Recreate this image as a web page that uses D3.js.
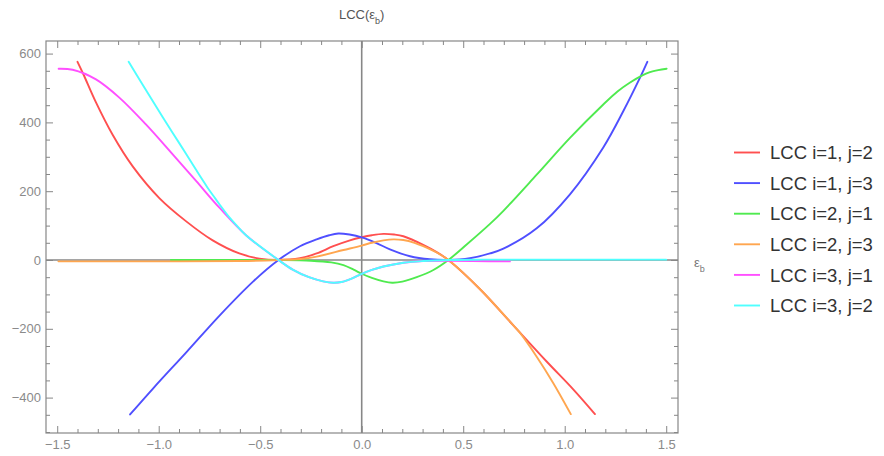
<!DOCTYPE html>
<html>
<head>
<meta charset="utf-8">
<script src="https://cdn.jsdelivr.net/npm/d3@7"></script>
<style>
  body { margin: 0; background: #fff; }
  svg { display: block; font-family: "Liberation Sans", Arial, sans-serif; }
</style>
</head>
<body>
<svg id="chart" width="884" height="456"></svg>
<script>
// Legend labels and line colours, one per series
const legendLabels = ["LCC i=1, j=2", "LCC i=1, j=3", "LCC i=2, j=1", "LCC i=2, j=3", "LCC i=3, j=1", "LCC i=3, j=2"];
const seriesColors = ["#ff4f4f", "#4f4fff", "#4fea4f", "#ffa64f", "#ff4fff", "#4fffff"];

// Tick labels
const xMajorTicks = [-1.5, -1.0, -0.5, 0.0, 0.5, 1.0, 1.5];
const yMajorTicks = [-400, -200, 0, 200, 400, 600];

// LCC i=1, j=2
const lcc12X = [-1.40, -1.371, -1.309, -1.227, -1.128, -0.997, -0.866, -0.734, -0.603, -0.504, -0.41, -0.304, -0.222, -0.14, -0.058, 0, 0.05, 0.107, 0.16, 0.205, 0.303, 0.369, 0.427, 0.583, 0.747, 0.911, 1.042, 1.149];
const lcc12Y = [576, 540, 458, 364, 272, 180, 113, 57, 19, 4, 0, 5, 19, 40, 57, 66, 72, 76, 74, 69, 44, 23, 0, -85, -190, -295, -376, -448];

// LCC i=1, j=3
const lcc13X = [-1.141, -1.027, -0.862, -0.698, -0.534, -0.41, -0.304, -0.222, -0.16, -0.115, -0.06, 0, 0.07, 0.139, 0.238, 0.336, 0.427, 0.533, 0.632, 0.698, 0.862, 1.026, 1.19, 1.289, 1.371, 1.407];
const lcc13Y = [-449, -373, -267, -160, -62, 0, 40, 60, 72, 77, 74, 66, 50, 31, 11, 2, 0, 5, 19, 33, 92, 191, 327, 433, 530, 576];

// LCC i=2, j=1
const lcc21X = [-0.94, -0.41, -0.25, -0.15, -0.09, -0.04, 0, 0.05, 0.107, 0.15, 0.2, 0.271, 0.353, 0.427, 0.517, 0.632, 0.698, 0.862, 1.026, 1.19, 1.26, 1.322, 1.38, 1.42, 1.46, 1.502];
const lcc21Y = [0, 0, -2, -7, -15, -28, -40, -52, -62, -66, -63, -50, -29, 0, 45, 105, 143, 248, 355, 452, 490, 516, 536, 546, 552, 556];

// LCC i=2, j=3
const lcc23X = [-1.494, -0.9, -0.6, -0.41, -0.3, -0.222, -0.09, 0, 0.05, 0.107, 0.156, 0.205, 0.26, 0.303, 0.386, 0.427, 0.583, 0.747, 0.78, 0.862, 0.944, 1.03];
const lcc23Y = [-4, -4, -3, 0, 3, 10, 29, 42, 50, 57, 60, 58, 50, 40, 16, 0, -85, -190, -212, -281, -358, -448];

// LCC i=3, j=1
const lcc31X = [-1.493, -1.424, -1.309, -1.194, -1.063, -0.931, -0.816, -0.701, -0.570, -0.41, -0.34, -0.26, -0.19, -0.14, -0.1, -0.05, 0, 0.05, 0.107, 0.205, 0.303, 0.427, 0.73];
const lcc31Y = [556, 553, 525, 472, 394, 307, 230, 152, 72, 0, -28, -50, -62, -66, -64, -54, -40, -29, -19, -8, -3, -2, -4];

// LCC i=3, j=2
const lcc32X = [-1.148, -1.063, -0.98, -0.898, -0.816, -0.76, -0.73, -0.701, -0.66, -0.62, -0.570, -0.41, -0.34, -0.26, -0.19, -0.14, -0.1, -0.05, 0, 0.05, 0.107, 0.205, 0.303, 0.427, 0.6, 1.5];
const lcc32Y = [576, 494, 415, 339, 262, 211, 186, 162, 130, 103, 72, 0, -28, -50, -62, -66, -64, -54, -40, -29, -19, -8, -3, 0, 1, 1];

const seriesX = [lcc12X, lcc13X, lcc21X, lcc23X, lcc31X, lcc32X];
const seriesY = [lcc12Y, lcc13Y, lcc21Y, lcc23Y, lcc31Y, lcc32Y];

const svg = d3.select("#chart");
const plotLeft = 46, plotRight = 678, plotTop = 41, plotBottom = 433;

const x = d3.scaleLinear().domain([-1.5552, 1.5581]).range([plotLeft, plotRight]);
const y = d3.scaleLinear().domain([-502.9, 636.6]).range([plotBottom, plotTop]);

const xMinorTicks = d3.range(-15, 16).map(i => i / 10).filter(v => Math.abs(v * 2 - Math.round(v * 2)) > 1e-6);
const yMinorTicks = d3.range(-500, 651, 50).filter(v => v % 200 !== 0 && v >= -502.9 && v <= 636.6);

const frameColor = "#878787";
const labelColor = "#8a8a8a";

// zero axes inside the frame
svg.append("line")
  .attr("x1", x(0)).attr("x2", x(0)).attr("y1", plotTop).attr("y2", plotBottom)
  .attr("stroke", frameColor).attr("stroke-width", 1.6);
svg.append("line")
  .attr("x1", plotLeft).attr("x2", plotRight).attr("y1", y(0)).attr("y2", y(0))
  .attr("stroke", frameColor).attr("stroke-width", 1.6);

function styleAxis(g) {
  g.select(".domain").remove();
  g.selectAll(".tick line").attr("stroke", frameColor);
  g.selectAll(".tick text").attr("fill", labelColor).attr("font-size", 13);
}

// major and minor ticks on all four sides, pointing inward
svg.append("g").attr("transform", `translate(0,${plotBottom})`)
  .call(d3.axisBottom(x).tickValues(xMajorTicks).tickSizeInner(-7).tickSizeOuter(0).tickPadding(7)
    .tickFormat(d3.format(".1f")))
  .call(styleAxis);
svg.append("g").attr("transform", `translate(0,${plotBottom})`)
  .call(d3.axisBottom(x).tickValues(xMinorTicks).tickSizeInner(-4).tickSizeOuter(0).tickFormat(""))
  .call(styleAxis);
svg.append("g").attr("transform", `translate(0,${plotTop})`)
  .call(d3.axisTop(x).tickValues(xMajorTicks).tickSizeInner(-7).tickSizeOuter(0).tickFormat(""))
  .call(styleAxis);
svg.append("g").attr("transform", `translate(0,${plotTop})`)
  .call(d3.axisTop(x).tickValues(xMinorTicks).tickSizeInner(-4).tickSizeOuter(0).tickFormat(""))
  .call(styleAxis);
svg.append("g").attr("transform", `translate(${plotLeft},0)`)
  .call(d3.axisLeft(y).tickValues(yMajorTicks).tickSizeInner(-7).tickSizeOuter(0).tickPadding(5)
    .tickFormat(d3.format("d")))
  .call(styleAxis);
svg.append("g").attr("transform", `translate(${plotLeft},0)`)
  .call(d3.axisLeft(y).tickValues(yMinorTicks).tickSizeInner(-4).tickSizeOuter(0).tickFormat(""))
  .call(styleAxis);
svg.append("g").attr("transform", `translate(${plotRight},0)`)
  .call(d3.axisRight(y).tickValues(yMajorTicks).tickSizeInner(-7).tickSizeOuter(0).tickFormat(""))
  .call(styleAxis);
svg.append("g").attr("transform", `translate(${plotRight},0)`)
  .call(d3.axisRight(y).tickValues(yMinorTicks).tickSizeInner(-4).tickSizeOuter(0).tickFormat(""))
  .call(styleAxis);

// frame
svg.append("rect")
  .attr("x", plotLeft).attr("y", plotTop).attr("width", plotRight - plotLeft).attr("height", plotBottom - plotTop)
  .attr("fill", "none").attr("stroke", frameColor).attr("stroke-width", 1.2);

// curves
const line = d3.line().curve(d3.curveCatmullRom.alpha(0.5))
  .x(d => x(d[0])).y(d => y(d[1]));

seriesX.forEach((xs, i) => {
  const pts = xs.map((v, k) => [v, seriesY[i][k]]);
  svg.append("path")
    .datum(pts)
    .attr("d", line)
    .attr("fill", "none")
    .attr("stroke", seriesColors[i])
    .attr("stroke-width", 1.9)
    .attr("stroke-linejoin", "round")
    .attr("stroke-linecap", "round");
});

// plot title
const title = svg.append("text")
  .attr("x", x(0)).attr("y", 19)
  .attr("text-anchor", "middle")
  .attr("font-size", 13).attr("fill", "#555");
title.append("tspan").text("LCC(ε");
title.append("tspan").attr("baseline-shift", "sub").attr("font-size", 9).text("b");
title.append("tspan").text(")");

// horizontal axis label on the right
const xl = svg.append("text")
  .attr("x", 694).attr("y", 267)
  .attr("font-size", 13).attr("fill", "#777");
xl.append("tspan").text("ε");
xl.append("tspan").attr("baseline-shift", "sub").attr("font-size", 9).text("b");

// legend
const legend = svg.append("g");
legendLabels.forEach((lab, i) => {
  const ly = 152.5 + i * 30.6;
  legend.append("line")
    .attr("x1", 734).attr("x2", 760).attr("y1", ly).attr("y2", ly)
    .attr("stroke", seriesColors[i]).attr("stroke-width", 1.9);
  legend.append("text")
    .attr("x", 770).attr("y", ly).attr("dy", "0.36em")
    .attr("font-size", 18.5).attr("fill", "#333")
    .text(lab);
});
</script>
</body>
</html>
